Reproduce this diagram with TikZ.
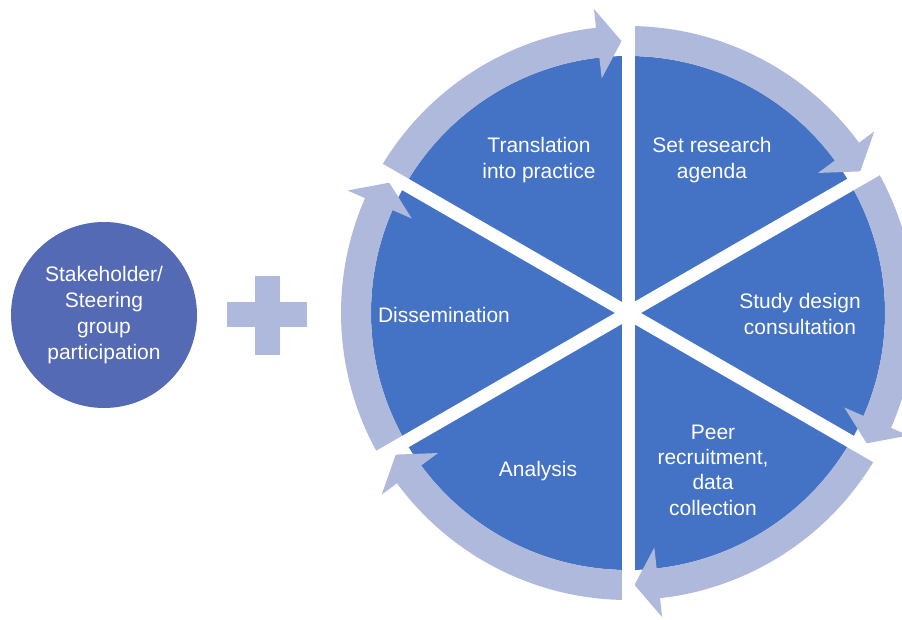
\documentclass[tikz,border=0pt]{standalone}
\usepackage{fontspec}
\setmainfont{Liberation Sans}
\definecolor{piedark}{HTML}{4472C4}
\definecolor{ringlight}{HTML}{AFB9DC}
\definecolor{groupblue}{HTML}{546AB4}
\tikzset{
  ringarrow/.style={fill=ringlight},
  gapline/.style={draw=white, line width=13pt},
  seglabel/.style={text=white, align=center, font=\fontsize{21}{25.3}\selectfont},
}
% circular arrow leaving the gap at angle #1, running clockwise to the next gap
\newcommand{\cyclearrow}[1]{%
  \fill[ringarrow] (#1:287) arc[start angle=#1, end angle={#1-53.6}, radius=287]
    -- ({#1-53.6}:306) -- ({#1-58.63}:272) -- ({#1-53.6}:236) -- ({#1-53.6}:257)
    arc[start angle={#1-53.6}, end angle=#1, radius=257] -- cycle;}
\begin{document}
\begin{tikzpicture}[x=1pt, y=1pt]
    \useasboundingbox (0,0) rectangle (902,619);
    % left group circle and plus
    \node[circle, fill=groupblue, minimum size=186pt, inner sep=0pt, seglabel,
        font=\fontsize{21}{26}\selectfont] (steer) at (104,304)
        {Stakeholder/\\Steering\\group\\participation};
    \fill[ringlight] (227,291.5) rectangle (307,316.5);
    \fill[ringlight] (254.5,264) rectangle (279.5,343);
    % pie with ring arrows
    \begin{scope}[shift={(628,306)}]
        \coordinate (hub) at (0,0);
        \fill[piedark] (hub) circle[radius=257];
        \cyclearrow{150}
        \cyclearrow{90}
        \cyclearrow{30}
        \cyclearrow{-30}
        \cyclearrow{-90}
        \cyclearrow{210}
        \draw[gapline] (30:320) -- (210:320);
        \draw[gapline] (90:320) -- (270:320);
        \draw[gapline] (150:320) -- (330:320);
    \end{scope}
    % segment labels
    \node[seglabel] (practice) at (539,459) {Translation\\into practice};
    \node[seglabel] (agenda) at (712,459) {Set research\\agenda};
    \node[seglabel] (design) at (800,305) {Study design\\consultation};
    \node[seglabel] (peer) at (713,149) {Peer\\recruitment,\\data\\collection};
    \node[seglabel] (analysis) at (538,148) {Analysis};
    \node[seglabel] (dissem) at (444,304) {Dissemination};
\end{tikzpicture}
\end{document}
